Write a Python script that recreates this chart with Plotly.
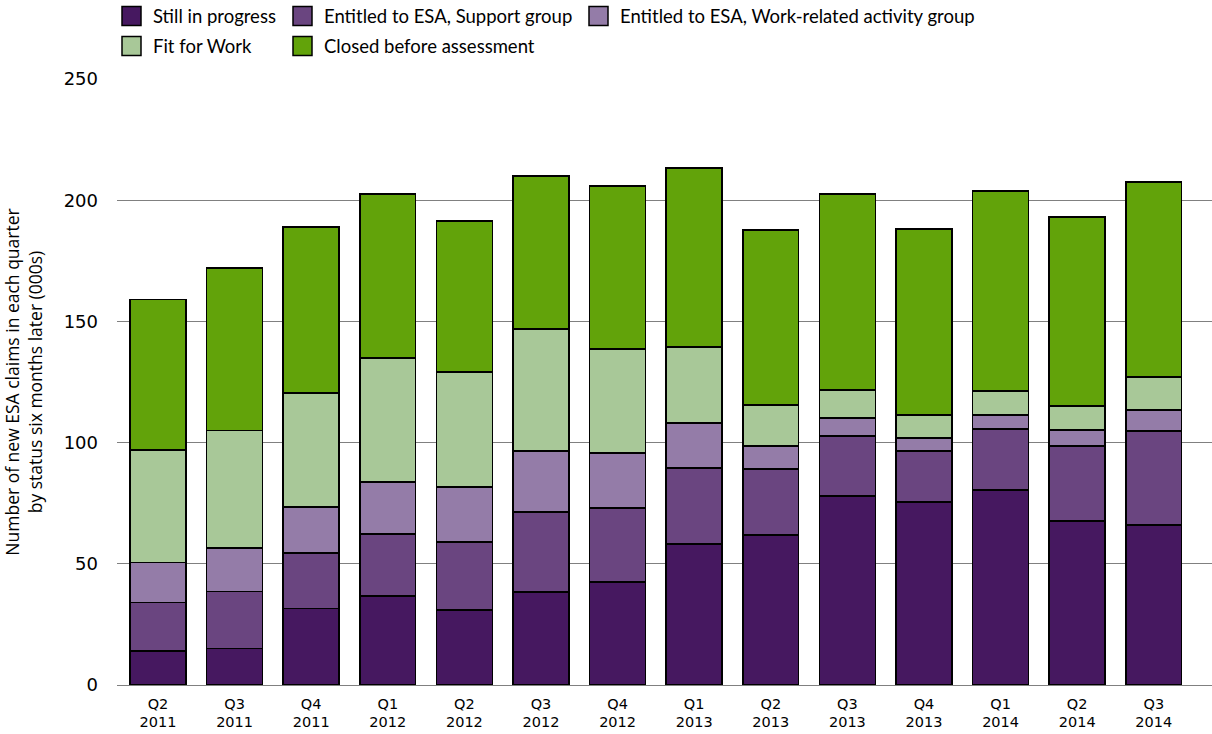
import plotly.graph_objects as go

quarters = ["Q2<br>2011", "Q3<br>2011", "Q4<br>2011", "Q1<br>2012", "Q2<br>2012", "Q3<br>2012", "Q4<br>2012",
            "Q1<br>2013", "Q2<br>2013", "Q3<br>2013", "Q4<br>2013", "Q1<br>2014", "Q2<br>2014", "Q3<br>2014"]

still_in_progress = [14.0, 15.0, 31.5, 36.7, 31.0, 38.4, 42.5, 58.2, 61.9, 78.0, 75.5, 80.4, 67.7, 66.0]
support_group     = [20.0, 23.5, 23.0, 25.6, 28.0, 33.0, 30.5, 31.3, 27.2, 24.7, 21.0, 25.2, 30.9, 38.8]
wrag              = [16.5, 18.0, 19.0, 21.4, 22.7, 25.1, 22.7, 18.6, 9.5, 7.4, 5.4, 5.8, 6.6, 8.6]
fit_for_work      = [46.5, 48.5, 47.0, 51.2, 47.4, 50.4, 42.9, 31.3, 16.9, 11.6, 9.5, 9.9, 9.9, 13.7]
closed_before     = [62.0, 67.0, 68.5, 67.7, 62.3, 63.1, 67.3, 73.9, 72.2, 80.9, 76.7, 82.5, 77.9, 80.4]

series = [
    ("Still in progress", still_in_progress, "#461860"),
    ("Entitled to ESA, Support group", support_group, "#6a4580"),
    ("Entitled to ESA, Work-related activity group", wrag, "#947ca8"),
    ("Fit for Work", fit_for_work, "#a8c898"),
    ("Closed before assessment", closed_before, "#62a30a"),
]

W, H = 1212, 734
L, R, T, B = 117, 0, 79, 49
PW, PH = W - L - R, H - T - B

fig = go.Figure()
for name, vals, col in series:
    fig.add_trace(go.Bar(x=quarters, y=vals, name=name, marker=dict(color=col, line=dict(color="#000000", width=1.5)),
                         width=0.73, showlegend=False))

def px_x(p):
    return (p - L) / PW

def px_y(p):
    return (H - B - p) / PH

legend_items = [
    ("Still in progress", "#461860", 122, 16),
    ("Entitled to ESA, Support group", "#6a4580", 293, 16),
    ("Entitled to ESA, Work-related activity group", "#947ca8", 589, 16),
    ("Fit for Work", "#a8c898", 122, 46),
    ("Closed before assessment", "#62a30a", 293, 46),
]
shapes = []
annotations = []
for name, col, x0, yc in legend_items:
    shapes.append(dict(type="rect", xref="paper", yref="paper",
                       x0=px_x(x0), x1=px_x(x0 + 19), y0=px_y(yc - 9.5), y1=px_y(yc + 9.5),
                       fillcolor=col, line=dict(color="#000000", width=1.5)))
    annotations.append(dict(text=name, xref="paper", yref="paper", x=px_x(x0 + 29), y=px_y(yc),
                            xanchor="left", yanchor="middle", showarrow=False,
                            font=dict(family="Lato", size=18.5, color="#000000")))

fig.update_layout(
    barmode="stack",
    width=W, height=H,
    margin=dict(l=L, r=R, t=T, b=B),
    plot_bgcolor="white", paper_bgcolor="white",
    shapes=shapes, annotations=annotations,
    xaxis=dict(range=[-0.535, 13.76], showgrid=False, showline=False, ticks="",
               tickfont=dict(family="DejaVu Sans", size=14.5, color="#000000"), ticklabelstandoff=8),
    yaxis=dict(range=[0, 250], tickvals=[0, 50, 100, 150, 200, 250], showgrid=True, gridcolor="#808080",
               gridwidth=1, zeroline=True, zerolinecolor="#808080", zerolinewidth=1, showline=False,
               tickfont=dict(family="DejaVu Sans", size=18, color="#000000"), ticklabelstandoff=18,
               title=dict(text="Number of new ESA claims in each quarter<br>by status six months later (000s)",
                          font=dict(family="Open Sans", size=17.5, color="#000000"), standoff=22)),
)

fig.write_html("out.html", config={"displayModeBar": False},
               post_script="document.body.style.margin='0';document.body.style.overflow='hidden';")
